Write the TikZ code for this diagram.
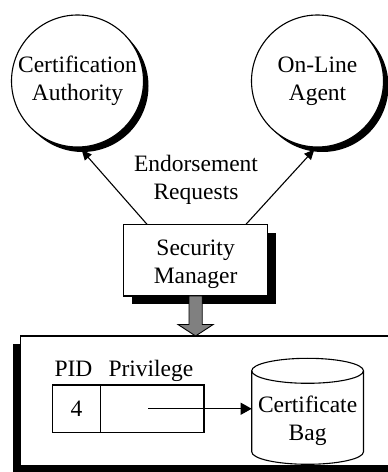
\documentclass[tikz,border=0pt]{standalone}
\usepackage{fontspec}
\setmainfont{Liberation Serif}
\usetikzlibrary{arrows.meta,calc}
\begin{document}
\begin{tikzpicture}[x=1pt,y=1pt,
  txt/.style={font=\fontsize{23.5}{28}\selectfont, align=center, inner sep=0pt},
  agent/.style={circle, draw=black, fill=white, line width=1.1pt, minimum size=132pt, inner sep=0pt, outer sep=0pt},
  agentshadow/.style={circle, fill=black, minimum size=132pt, inner sep=0pt, outer sep=0pt},
  panel/.style={rectangle, draw=black, fill=white, line width=1.1pt, inner sep=0pt, outer sep=0pt},
  panelshadow/.style={rectangle, fill=black, inner sep=0pt, outer sep=0pt},
  cell/.style={rectangle, draw=black, line width=1.1pt, inner sep=0pt, outer sep=0pt, minimum height=47.5pt},
  outline/.style={draw=black, line width=1.1pt},
  link/.style={line width=1.1pt, -{Triangle[length=10pt,width=9pt]}},
  pointer/.style={line width=1.1pt, -{Triangle[length=11pt,width=12pt]}},
  fatarrow/.style={fill=gray, draw=black, line width=0.9pt, line join=miter}
]
\useasboundingbox (0,0) rectangle (388,472);
\clip (0,0) rectangle (388,472);

% agents with drop shadows
\node[agentshadow] (cashadow) at (82.5,386) {};
\node[agentshadow] (olshadow) at (322.5,386) {};
\node[agent, txt] (ca) at (77.5,391) {Certification\\Authority};
\node[agent, txt] (ol) at (317.5,391) {On-Line\\Agent};

% security manager
\node[panelshadow, minimum width=144.2pt, minimum height=71.7pt] (smshadow) at (204.1,203.35) {};
\node[panel, minimum width=144.2pt, minimum height=71.7pt] (sm) at (195.6,211.85) {};
\node[txt] (smtext) at ($(sm.center)+(0,-3.8)$) {Security\\Manager};

% requests to the agents
\node[txt] (req) at (196,291.8) {Endorsement\\Requests};
\draw[link] ($(sm.north)+(-48.6,0)$) -- ($(ca.center)+(4.2,-69)$);
\draw[link] ($(sm.north)+(50.4,0)$) -- ($(ol.center)+(-3.2,-68.5)$);

% protected store
\node[panelshadow, minimum width=379.3pt, minimum height=129.7pt] (storeshadow) at (202.35,63.15) {};
\node[panel, minimum width=379.3pt, minimum height=129.7pt] (store) at (210.35,71.15) {};

% wide arrow into the store
\draw[fatarrow] ($(sm.south)+(-6.6,0)$)
  -- ($(sm.south |- store.north)+(-6.6,11.5)$) -- ++(-11,0)
  -- (sm.south |- store.north)
  -- ($(sm.south |- store.north)+(17.6,11.5)$) -- ++(-11,0)
  -- ($(sm.south)+(6.6,0)$) -- cycle;

% PID / privilege table
\node[cell, minimum width=48.4pt, txt] (pid) at (76.4,63.25) {4};
\node[cell, minimum width=103.4pt] (priv) at (152.3,63.25) {};
\node[txt, anchor=base west] (pidlabel) at (54.3,95.3) {PID};
\node[txt, anchor=base west] (privlabel) at (108.3,95.3) {Privilege};

% certificate bag
\node[rectangle, inner sep=0pt, outer sep=0pt, minimum width=111.8pt, minimum height=106pt] (bag) at (307.6,60.7) {};
\draw[outline] ($(bag.north west)+(0,-12.5)$) -- ($(bag.south west)+(0,12.5)$)
  arc[start angle=180, end angle=360, x radius=55.9pt, y radius=12.5pt]
  -- ($(bag.north east)+(0,-12.5)$);
\draw[outline] ($(bag.north)+(0,-12.5)$) ellipse[x radius=55.9pt, y radius=12.5pt];
\node[txt] (bagtext) at ($(bag.center)+(0,-9.7)$) {Certificate\\Bag};

\coordinate (pv) at ($(priv.center)+(-4,0)$);
\draw[pointer] (pv) -- (pv -| bag.west);
\end{tikzpicture}
\end{document}
